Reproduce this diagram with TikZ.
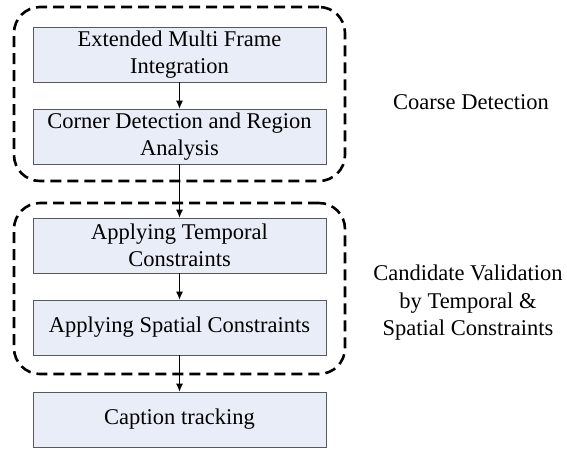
\documentclass[tikz,border=0pt]{standalone}
\usepackage{fontspec}
\setmainfont{Liberation Serif}
\usepackage{xcolor}
\usetikzlibrary{arrows.meta}
\definecolor{boxfill}{HTML}{E8EDF7}
\definecolor{boxline}{HTML}{595959}

\begin{document}
\begin{tikzpicture}[x=1pt,y=-1pt,
  stagebox/.style={rectangle, minimum width=293pt, minimum height=55pt, align=center, fill=boxfill, draw=boxline, line width=0.8pt, font=\fontsize{22.5}{27}\selectfont},
  groupbox/.style={rectangle, rounded corners=26pt, draw, line width=2.6pt, dash pattern=on 11pt off 6pt},
  grouplabel/.style={align=center, font=\fontsize{22.5}{27.5}\selectfont},
  flow/.style={-{Latex[length=8pt,width=7pt]}, line width=0.8pt}]
\useasboundingbox (0,0) rectangle (567,448);
\node at (179.5,94) [groupbox, minimum width=331pt, minimum height=174pt] (coarsebox) {};
\node at (179.5,288.5) [groupbox, minimum width=331pt, minimum height=171pt] (validbox) {};
\node at (179.5,54.5) [stagebox] (integration) {Extended Multi Frame\\Integration};
\node at (179.5,136.5) [stagebox] (corner) {Corner Detection and Region\\Analysis};
\node at (179.5,245.5) [stagebox] (temporal) {Applying Temporal\\Constraints};
\node at (179.5,327.5) [stagebox] (spatial) {Applying Spatial Constraints};
\node at (179.5,419.5) [stagebox] (tracking) {Caption tracking};
\node at (471,102) [grouplabel] (coarse) {Coarse Detection};
\node at (468,303) [grouplabel] (candidate) {Candidate Validation\\by Temporal \&\\Spatial Constraints};
\draw (integration) [flow] -- (corner);
\draw (corner) [flow] -- (temporal);
\draw (temporal) [flow] -- (spatial);
\draw (spatial) [flow] -- (tracking);
\end{tikzpicture}
\end{document}
